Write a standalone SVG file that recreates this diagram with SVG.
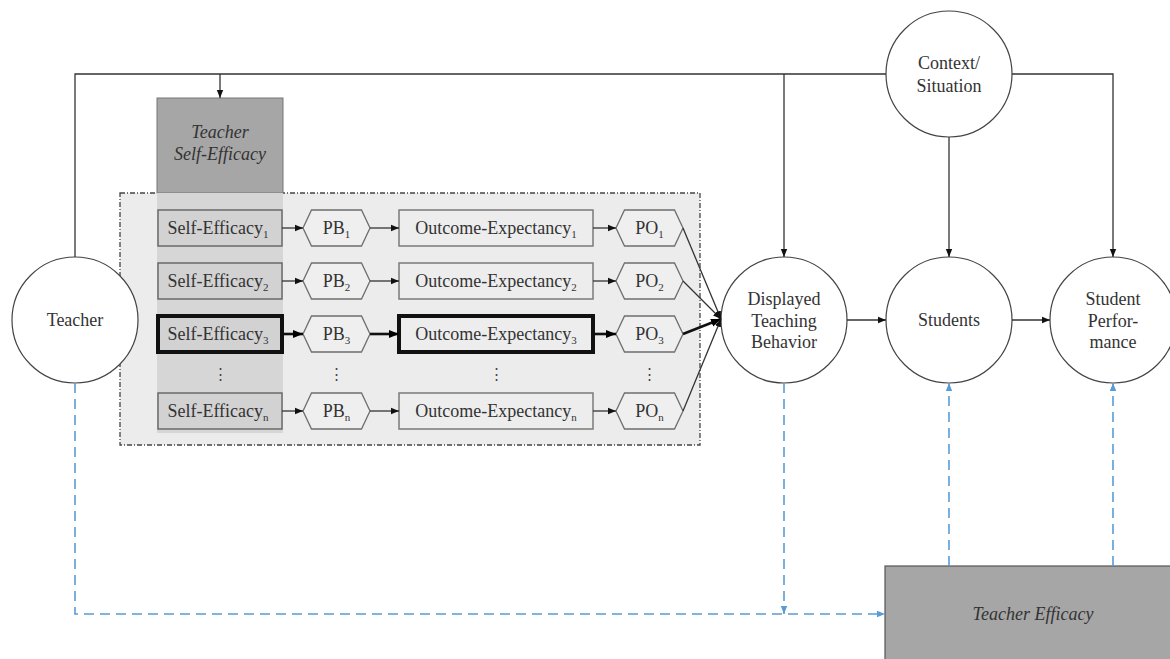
<svg xmlns="http://www.w3.org/2000/svg" width="1170" height="659" viewBox="0 0 1170 659">
<style>
text{font-family:"Liberation Serif","DejaVu Serif",serif;font-size:18px;fill:#333;text-anchor:middle}
.it{font-style:italic}
.sub{font-size:11px}
.circ{fill:#fff;stroke:#444;stroke-width:1.2}
.se{fill:#d2d2d2;stroke:#6a6a6a;stroke-width:1.5}
.oe{fill:#ededed;stroke:#7a7a7a;stroke-width:1.5}
.hex{fill:#efefef;stroke:#6e6e6e;stroke-width:1.3}
.thick{stroke:#111;stroke-width:4}
.ln{fill:none;stroke:#333;stroke-width:1.3}
.lnb{fill:none;stroke:#111;stroke-width:2.6}
.blue{fill:none;stroke:#5b9bd5;stroke-width:1.6;stroke-dasharray:10 6}
.dots{font-family:"DejaVu Serif",serif;font-size:15px;fill:#444}
</style>
<defs>
<marker id="ah" viewBox="0 0 10 10" refX="10" refY="5" markerWidth="8" markerHeight="8" markerUnits="userSpaceOnUse" orient="auto"><path d="M0,1 L10,5 L0,9 z" fill="#111"/></marker>
<marker id="ahb" viewBox="0 0 10 10" refX="10" refY="5" markerWidth="10" markerHeight="10" markerUnits="userSpaceOnUse" orient="auto"><path d="M0,1 L10,5 L0,9 z" fill="#000"/></marker>
<marker id="ahblue" viewBox="0 0 10 10" refX="10" refY="5" markerWidth="8" markerHeight="8" markerUnits="userSpaceOnUse" orient="auto"><path d="M0,1 L10,5 L0,9 z" fill="#5b9bd5"/></marker>
</defs>
<rect width="1170" height="659" fill="#fff"/>

<g id="frame">
<rect x="120" y="193" width="580" height="252" fill="#ececec" stroke="#444" stroke-width="1.3" stroke-dasharray="5 2 1 2"/>
</g>

<g id="teacher-self-efficacy">
<rect x="157" y="98" width="126" height="95" fill="#a6a6a6" stroke="#777" stroke-width="1"/>
<rect x="157" y="193" width="126" height="240" fill="#d6d6d6"/>
<text class="it" x="220" y="138">Teacher</text>
<text class="it" x="220" y="160">Self-Efficacy</text>
</g>

<g id="self-efficacy">
<rect class="se" x="158" y="210" width="124" height="36"/>
<text x="218" y="234">Self-Efficacy<tspan class="sub" dy="4">1</tspan></text>
<rect class="se" x="158" y="263" width="124" height="36"/>
<text x="218" y="287">Self-Efficacy<tspan class="sub" dy="4">2</tspan></text>
<rect class="se thick" x="158" y="316" width="124" height="36"/>
<text x="218" y="340">Self-Efficacy<tspan class="sub" dy="4">3</tspan></text>
<text class="dots" x="220" y="379">⋮</text>
<rect class="se" x="158" y="393" width="124" height="36"/>
<text x="218" y="417">Self-Efficacy<tspan class="sub" dy="4">n</tspan></text>
</g>

<g id="pb">
<path class="hex" d="M303,228 L311.5,210 L361.5,210 L370,228 L361.5,246 L311.5,246 Z"/>
<text x="336.5" y="234">PB<tspan class="sub" dy="4">1</tspan></text>
<path class="hex" d="M303,281 L311.5,263 L361.5,263 L370,281 L361.5,299 L311.5,299 Z"/>
<text x="336.5" y="287">PB<tspan class="sub" dy="4">2</tspan></text>
<path class="hex" d="M303,334 L311.5,316 L361.5,316 L370,334 L361.5,352 L311.5,352 Z"/>
<text x="336.5" y="340">PB<tspan class="sub" dy="4">3</tspan></text>
<text class="dots" x="336.5" y="379">⋮</text>
<path class="hex" d="M303,411 L311.5,393 L361.5,393 L370,411 L361.5,429 L311.5,429 Z"/>
<text x="336.5" y="417">PB<tspan class="sub" dy="4">n</tspan></text>
</g>

<g id="outcome-expectancy">
<rect class="oe" x="399" y="210" width="194" height="36"/>
<text x="496" y="234">Outcome-Expectancy<tspan class="sub" dy="4">1</tspan></text>
<rect class="oe" x="399" y="263" width="194" height="36"/>
<text x="496" y="287">Outcome-Expectancy<tspan class="sub" dy="4">2</tspan></text>
<rect class="oe thick" x="399" y="316" width="194" height="36"/>
<text x="496" y="340">Outcome-Expectancy<tspan class="sub" dy="4">3</tspan></text>
<text class="dots" x="496" y="379">⋮</text>
<rect class="oe" x="399" y="393" width="194" height="36"/>
<text x="496" y="417">Outcome-Expectancy<tspan class="sub" dy="4">n</tspan></text>
</g>

<g id="po">
<path class="hex" d="M616,228 L624.5,210 L674.5,210 L683,228 L674.5,246 L624.5,246 Z"/>
<text x="649.5" y="234">PO<tspan class="sub" dy="4">1</tspan></text>
<path class="hex" d="M616,281 L624.5,263 L674.5,263 L683,281 L674.5,299 L624.5,299 Z"/>
<text x="649.5" y="287">PO<tspan class="sub" dy="4">2</tspan></text>
<path class="hex" d="M616,334 L624.5,316 L674.5,316 L683,334 L674.5,352 L624.5,352 Z"/>
<text x="649.5" y="340">PO<tspan class="sub" dy="4">3</tspan></text>
<text class="dots" x="649.5" y="379">⋮</text>
<path class="hex" d="M616,411 L624.5,393 L674.5,393 L683,411 L674.5,429 L624.5,429 Z"/>
<text x="649.5" y="417">PO<tspan class="sub" dy="4">n</tspan></text>
</g>

<g id="teacher">
<circle class="circ" cx="75" cy="320" r="63"/>
<text x="75" y="326">Teacher</text>
</g>
<g id="context">
<circle class="circ" cx="949" cy="74" r="63"/>
<text x="949" y="69">Context/</text>
<text x="949" y="92">Situation</text>
</g>
<g id="displayed-teaching-behavior">
<circle class="circ" cx="784" cy="320" r="63"/>
<text x="784" y="305">Displayed</text>
<text x="784" y="327">Teaching</text>
<text x="784" y="348">Behavior</text>
</g>
<g id="students">
<circle class="circ" cx="949" cy="320" r="63"/>
<text x="949" y="326">Students</text>
</g>
<g id="student-performance">
<circle class="circ" cx="1113" cy="320" r="63"/>
<text x="1113" y="305">Student</text>
<text x="1113" y="327">Perfor-</text>
<text x="1113" y="348">mance</text>
</g>
<g id="teacher-efficacy">
<rect x="885" y="566" width="300" height="100" fill="#a6a6a6" stroke="#555" stroke-width="1.2"/>
<text class="it" x="1033" y="620">Teacher Efficacy</text>
</g>

<g id="connectors">
<path class="ln" d="M75,257 V74 H886"/>
<path class="ln" d="M1012,74 H1113 V257" marker-end="url(#ah)"/>
<path class="ln" d="M220,74 V98" marker-end="url(#ah)"/>
<path class="ln" d="M784,74 V257" marker-end="url(#ah)"/>
<path class="ln" d="M949,137 V257" marker-end="url(#ah)"/>
<path class="ln" d="M847,320 H886" marker-end="url(#ah)"/>
<path class="ln" d="M1012,320 H1050" marker-end="url(#ah)"/>

<path class="ln" d="M282,228 H303" marker-end="url(#ah)"/>
<path class="ln" d="M282,281 H303" marker-end="url(#ah)"/>
<path class="lnb" d="M282,334 H303" marker-end="url(#ahb)"/>
<path class="ln" d="M282,411 H303" marker-end="url(#ah)"/>
<path class="ln" d="M370,228 H399" marker-end="url(#ah)"/>
<path class="ln" d="M370,281 H399" marker-end="url(#ah)"/>
<path class="lnb" d="M370,334 H399" marker-end="url(#ahb)"/>
<path class="ln" d="M370,411 H399" marker-end="url(#ah)"/>
<path class="ln" d="M593,228 H616" marker-end="url(#ah)"/>
<path class="ln" d="M593,281 H616" marker-end="url(#ah)"/>
<path class="lnb" d="M593,334 H616" marker-end="url(#ahb)"/>
<path class="ln" d="M593,411 H616" marker-end="url(#ah)"/>

<path class="ln" d="M683,228 L721,319" marker-end="url(#ah)"/>
<path class="ln" d="M683,281 L721,319" marker-end="url(#ah)"/>
<path class="lnb" d="M683,334 L721,319" marker-end="url(#ahb)"/>
<path class="ln" d="M683,411 L721,319" marker-end="url(#ah)"/>

<path class="blue" d="M75,383 V614 H885" marker-end="url(#ahblue)"/>
<path class="blue" d="M784,383 V614" marker-end="url(#ahblue)"/>
<path class="blue" d="M949,566 V383" marker-end="url(#ahblue)"/>
<path class="blue" d="M1113,566 V383" marker-end="url(#ahblue)"/>
</g>
</svg>
